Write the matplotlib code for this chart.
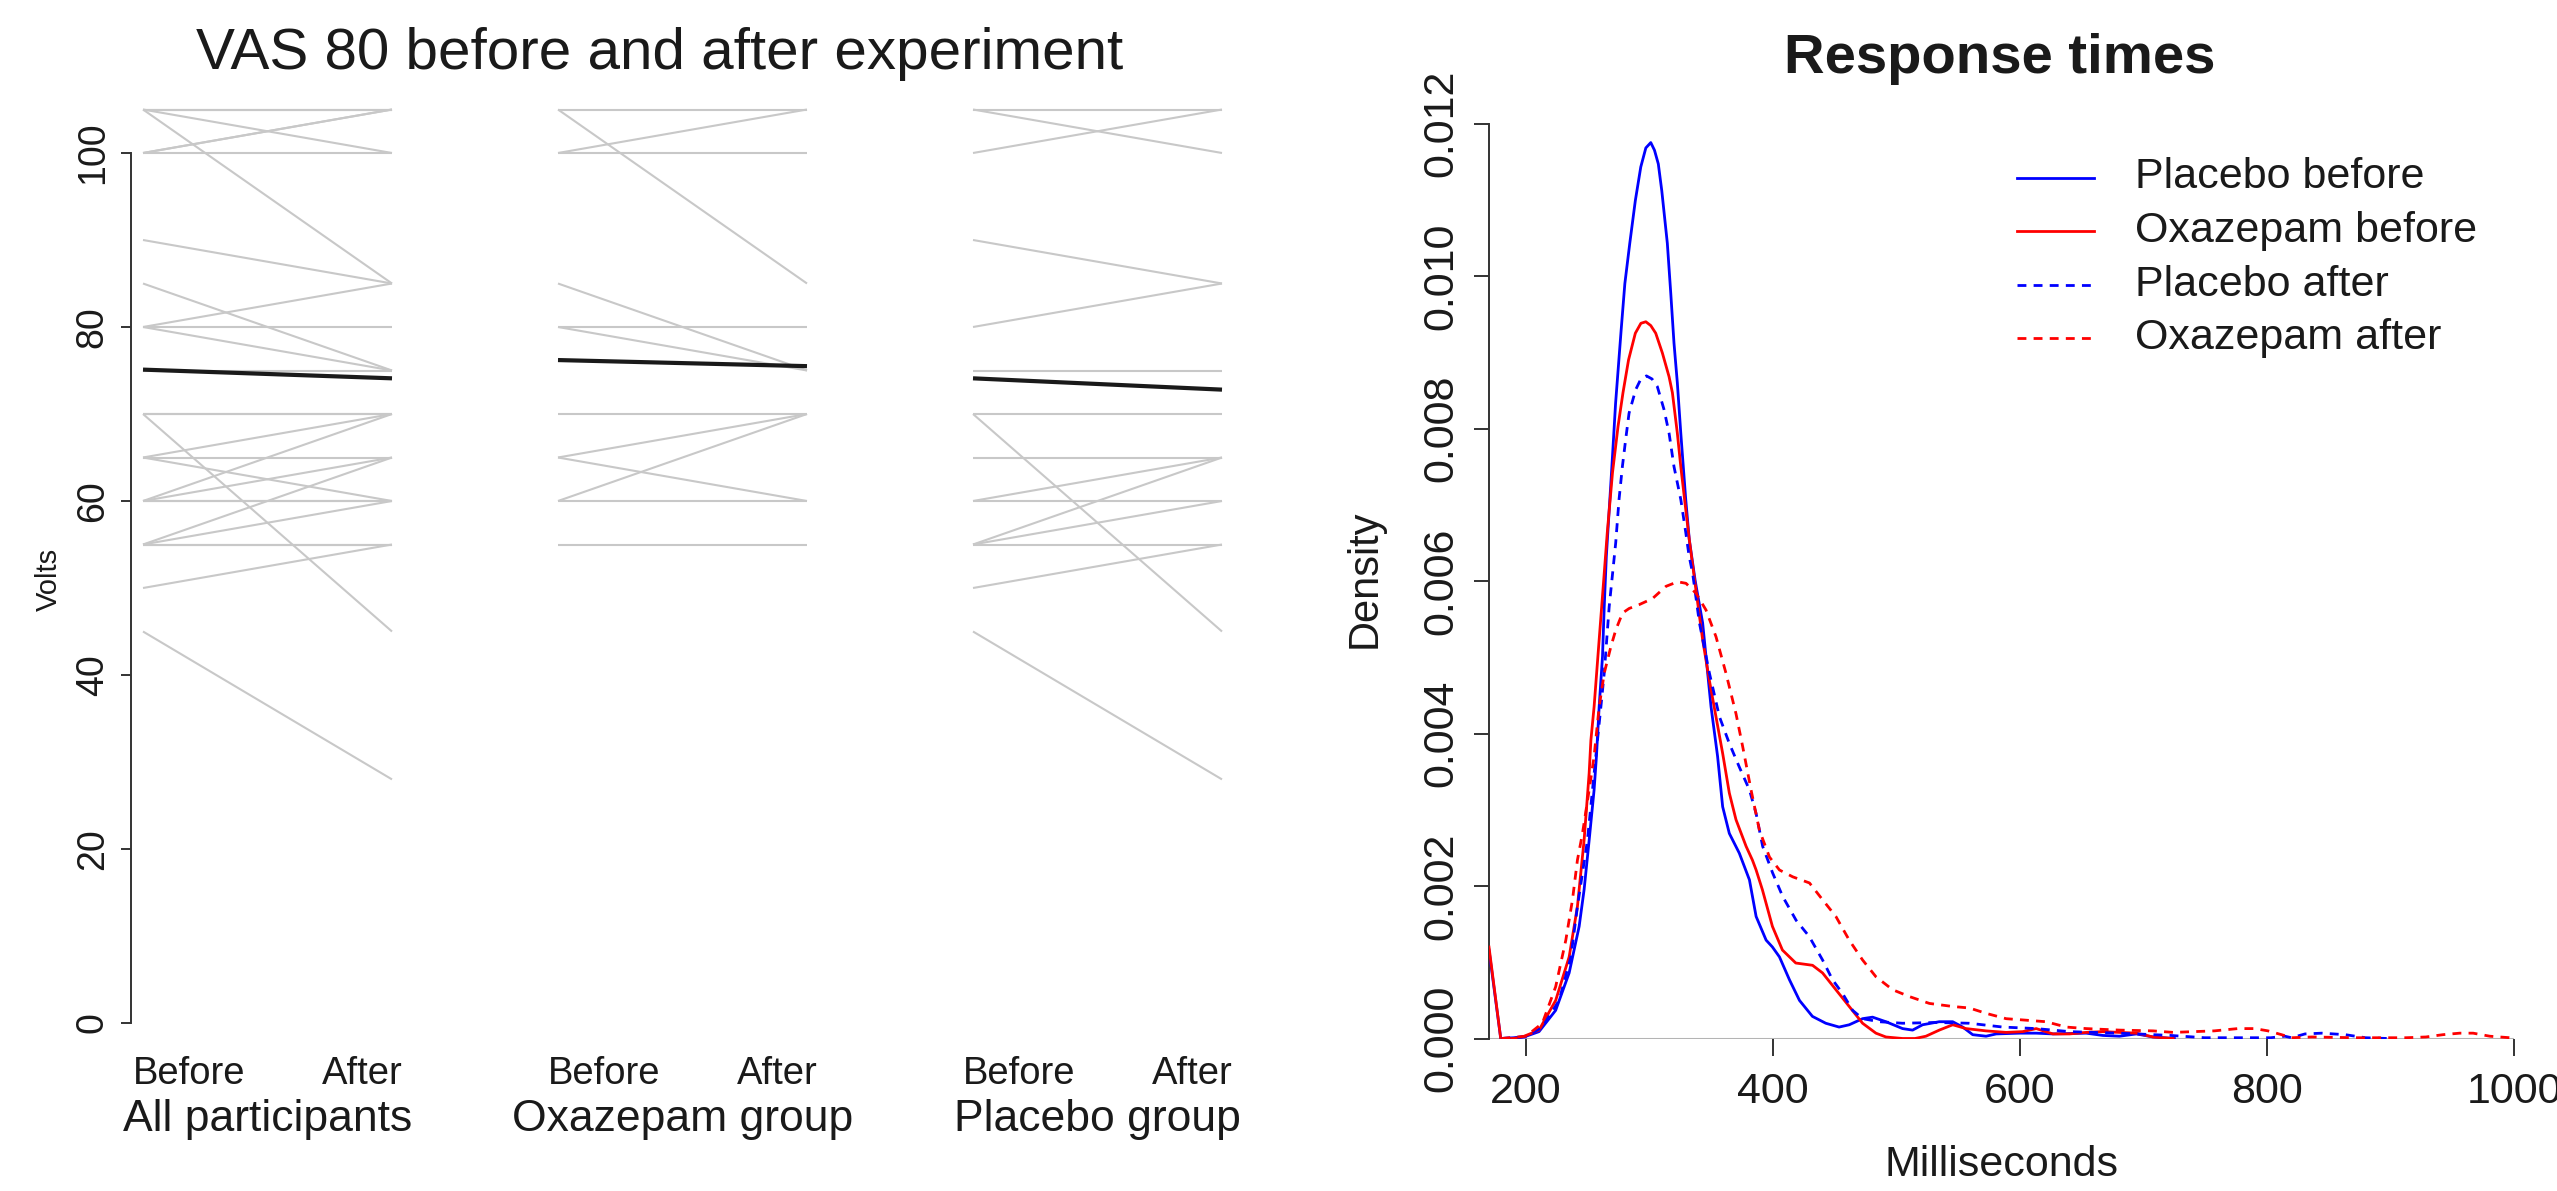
"""
VAS 80 antes/después del experimento y densidades de tiempos de respuesta.
"""

import matplotlib
matplotlib.use("Agg")
import matplotlib.pyplot as plt
import matplotlib.transforms as mtransforms

plt.rcParams.update({
    "font.family": ["Liberation Sans", "DejaVu Sans"],
    "text.color": "#1a1a1a",
    "axes.edgecolor": "#333333",
})

W, H = 2557, 1191          # tamaño final en píxeles (dpi = 100)

# ── Datos: VAS 80 (pares antes → después) ───────────────────────────────────
oxa_before = [105, 100, 100, 105, 85, 80, 80, 70, 65, 60, 65, 60, 55]
oxa_after  = [105, 105, 100, 85, 75, 80, 75, 70, 70, 70, 60, 60, 55]
pla_before = [105, 105, 100, 90, 80, 75, 70, 70, 65, 60, 55, 60, 55, 55, 50, 45]
pla_after  = [105, 100, 105, 85, 85, 75, 70, 45, 65, 65, 65, 60, 60, 55, 55, 28]
all_before = oxa_before + pla_before
all_after  = oxa_after + pla_after

groups      = ["All participants", "Oxazepam group", "Placebo group"]
mean_before = [75.1, 76.2, 74.1]
mean_after  = [74.1, 75.5, 72.8]
vas_ticks   = [0, 20, 40, 60, 80, 100]

# ── Datos: densidades de tiempos de respuesta ───────────────────────────────
pb_x = [170, 179.5, 190, 200, 210.5, 224, 234.9, 243, 247, 251.1, 255.1, 257,
        259.2, 261.9, 263.3, 265, 269.5, 272.5, 277, 280, 284, 288.5, 292.9,
        297, 301, 304, 307.1, 309.9, 314.4, 317.2, 319.8, 322.5, 325.3, 329.3,
        332.2, 337, 343, 349.8, 355.1, 359.2, 364.6, 372.7, 380.9, 386.3,
        394.4, 399.5, 405.2, 413.3, 421.4, 431.9, 442.7, 453.5, 461.7, 472.5,
        480.6, 491.4, 504.9, 513, 521.1, 534.6, 545.5, 553.6, 561.7, 572.5,
        580.7, 599.6, 613.1, 626.6, 653.6, 667.1, 680.6, 694.2, 707.7, 725]
pb_y = [0.00116, 0.0, 0.00001, 0.00003, 0.00009, 0.00037, 0.00086, 0.00147,
        0.00195, 0.0026, 0.00326, 0.0037, 0.00435, 0.00501, 0.00566, 0.00632,
        0.0075, 0.00833, 0.00929, 0.0099, 0.01043, 0.01099, 0.01143, 0.01168,
        0.01175, 0.01165, 0.01147, 0.01112, 0.01043, 0.00977, 0.00912, 0.0086,
        0.00794, 0.00707, 0.00654, 0.006, 0.00545, 0.00435, 0.0037, 0.00304,
        0.00269, 0.00243, 0.00208, 0.0016, 0.00129, 0.0012, 0.00107, 0.00077,
        0.0005, 0.00029, 0.0002, 0.00015, 0.00018, 0.00026, 0.00028, 0.00022,
        0.00013, 0.00011, 0.00018, 0.00022, 0.00022, 0.00015, 0.00005, 0.00003,
        0.00006, 0.00007, 0.00007, 0.00006, 0.00007, 0.00004, 0.00003, 0.00006,
        0.00002, 0.0]

ob_x = [170, 179.5, 190, 197, 210.5, 224, 234.9, 241.6, 247, 251.1, 252.5,
        255.1, 259.2, 263.3, 265.8, 270, 274.5, 278.5, 283, 288.5, 293, 297,
        301, 305, 310.4, 315.8, 318.5, 322.5, 325.3, 329.3, 332.2, 337.6, 343,
        348.4, 353.8, 359.2, 364.6, 370, 378.2, 383.3, 386.3, 391.4, 399.5,
        407.6, 418.4, 432, 440.1, 450.9, 461.7, 472.5, 483.3, 491.4, 504.9,
        515, 523.8, 534.6, 545.5, 556.3, 572.5, 588.7, 602.2, 613.1, 626.6,
        640.1, 653.6, 667.1, 694.2, 707.7, 724]
ob_y = [0.0012, 0.0, 0.0, 0.00002, 0.00011, 0.0005, 0.00107, 0.00173, 0.0026,
        0.00348, 0.00391, 0.00435, 0.00523, 0.0061, 0.00664, 0.00742, 0.00803,
        0.00847, 0.0089, 0.00925, 0.00938, 0.0094, 0.00935, 0.00925, 0.00899,
        0.00868, 0.00847, 0.00794, 0.0075, 0.00694, 0.00654, 0.00588, 0.00523,
        0.0047, 0.00422, 0.00374, 0.00322, 0.00287, 0.00252, 0.00234, 0.00221,
        0.00195, 0.00147, 0.00116, 0.00099, 0.00096, 0.00086, 0.00064, 0.00042,
        0.0002, 0.00007, 0.00002, 0.0, 0.0, 0.00003, 0.00011, 0.00018, 0.00013,
        0.0001, 0.00008, 0.00009, 0.00013, 0.00006, 0.00006, 0.00008, 0.00009,
        0.00007, 0.00002, 0.0]

pa_x = [180, 200, 213.2, 226.8, 236.3, 241.6, 245.7, 249.7, 253.8, 256.5,
        260.6, 263.3, 267.3, 272.6, 275.3, 278, 280.7, 283.4, 288.8, 293,
        297.5, 302, 306.3, 311.7, 315.8, 319.8, 325.3, 329.3, 332, 334.9,
        340.4, 348.5, 356.6, 364.6, 372.7, 380.9, 386.3, 391.6, 399.7, 407.9,
        418.7, 429.2, 440.1, 448.2, 456.3, 464.4, 472.5, 486, 504.9, 531.9,
        559, 586, 613.1, 640.1, 680.6, 722, 749.5, 776.3, 803, 814.4, 819.9,
        830.8, 844.4, 863.4, 879.8, 898]
pa_y = [0.0, 0.00002, 0.00015, 0.0005, 0.00107, 0.00173, 0.00217, 0.0026,
        0.00326, 0.0037, 0.00435, 0.00479, 0.00566, 0.0065, 0.00707, 0.0075,
        0.00786, 0.0082, 0.00851, 0.00865, 0.00869, 0.00865, 0.00855, 0.00825,
        0.00794, 0.0075, 0.00707, 0.00664, 0.00633, 0.0061, 0.00545, 0.00479,
        0.00422, 0.00387, 0.00356, 0.00326, 0.00295, 0.00252, 0.00217, 0.00186,
        0.00155, 0.00134, 0.00103, 0.00077, 0.00059, 0.00037, 0.00026, 0.00022,
        0.0002, 0.00021, 0.0002, 0.00015, 0.00013, 0.00009, 0.00007, 0.00004,
        0.00001, 0.00001, 0.00001, 0.00003, 0.00001, 0.00006, 0.00007, 0.00005,
        0.00001, 0.0]

oa_x = [180, 200, 213.2, 224, 232.2, 237.6, 241.6, 245.7, 251.1, 255.1, 259.2,
        263.3, 268.7, 272.7, 278.1, 283.5, 291.6, 302.4, 313.3, 322.7, 329.5,
        337.6, 345.7, 353.8, 361.9, 370, 375.4, 382.2, 389, 397.1, 405.2, 416,
        429.5, 440.1, 450.9, 461.7, 472.5, 483.3, 496.8, 510.4, 526.6, 545.5,
        559, 572.5, 588.7, 605, 621.1, 637.4, 653.6, 680.6, 707.7, 724, 757.3,
        776.3, 790, 800.8, 811.8, 819.9, 836.2, 871.6, 912.4, 928.7, 942.4,
        956, 966.9, 980.4, 996.7]
oa_y = [0.0, 0.00003, 0.0002, 0.00068, 0.00129, 0.00182, 0.00234, 0.00269,
        0.00326, 0.0037, 0.00435, 0.00479, 0.00514, 0.00536, 0.00558, 0.00564,
        0.00569, 0.00577, 0.00593, 0.00599, 0.00597, 0.00584, 0.00562, 0.00527,
        0.00479, 0.00426, 0.00383, 0.00326, 0.00273, 0.00238, 0.00221, 0.00212,
        0.00204, 0.00182, 0.0016, 0.00129, 0.00103, 0.00081, 0.00064, 0.00055,
        0.00046, 0.00042, 0.0004, 0.00033, 0.00026, 0.00024, 0.00022, 0.00015,
        0.00013, 0.00011, 0.0001, 0.00008, 0.0001, 0.00013, 0.00013, 0.0001,
        0.00005, 0.00001, 0.00002, 0.00001, 0.00001, 0.00002, 0.00005, 0.00007,
        0.00007, 0.00003, 0.00001]

series_labels = ["Placebo before", "Oxazepam before", "Placebo after", "Oxazepam after"]
series_colors = ["#0000ff", "#ff0000", "#0000ff", "#ff0000"]
series_dashed = [False, False, True, True]
rt_xticks = [200, 400, 600, 800, 1000]
rt_yticks = [0.000, 0.002, 0.004, 0.006, 0.008, 0.010, 0.012]

DASH = (0, (3.2, 2.6))


def fx(px):
    return px / W


def fy(py):
    return 1 - py / H


fig = plt.figure(figsize=(W / 100, H / 100), dpi=100)

# ── Panel izquierdo: VAS 80 ─────────────────────────────────────────────────
ax1 = fig.add_axes([fx(131), fy(1023), (1245 - 131) / W, (1023 - 100) / H])
ax1.set_ylim(0, (1023 - 100) / 8.7)
ax1.set_xlim(-12 / 249, (1245 - 143) / 249)

offsets = [0, 5 / 3, 10 / 3]
pairs = [(all_before, all_after), (oxa_before, oxa_after), (pla_before, pla_after)]
for off, (bef, aft) in zip(offsets, pairs):
    for b, a in zip(bef, aft):
        ax1.plot([off, off + 1], [b, a], color="#c8c8c8", lw=1.5,
                 solid_capstyle="butt", clip_on=False, zorder=1)
for off, mb, ma in zip(offsets, mean_before, mean_after):
    ax1.plot([off, off + 1], [mb, ma], color="#1a1a1a", lw=3.0,
             solid_capstyle="butt", zorder=3)

for s in ["top", "right", "bottom"]:
    ax1.spines[s].set_visible(False)
ax1.spines["left"].set_bounds(0, 100)
ax1.spines["left"].set_linewidth(1.4)
ax1.set_xticks([])
ax1.set_yticks(vas_ticks)
ax1.tick_params(axis="y", length=7.5, width=1.4, pad=7, labelsize=27,
                labelrotation=90, colors="#333333", labelcolor="#1a1a1a")
for lab in ax1.get_yticklabels():
    lab.set_va("center")

lab_tr = mtransforms.blended_transform_factory(ax1.transData, fig.transFigure)
for off, name in zip(offsets, groups):
    ax1.text(off + 0.186, fy(1084), "Before", transform=lab_tr, ha="center",
             va="baseline", fontsize=27.5)
    ax1.text(off + 0.879, fy(1084), "After", transform=lab_tr, ha="center",
             va="baseline", fontsize=27.5)
    ax1.text(off + 0.5, fy(1131), name, transform=lab_tr, ha="center",
             va="baseline", fontsize=32)

fig.text(fx(49), fy(579), "Volts", rotation=90, ha="center", va="center",
         fontsize=21)
fig.text(fx(660), fy(69), "VAS 80 before and after experiment", ha="center",
         va="baseline", fontsize=42)

# ── Panel derecho: tiempos de respuesta ─────────────────────────────────────
ax2 = fig.add_axes([fx(1489), fy(1038.5), (2514 - 1489) / W, (1038.5 - 110) / H])
ax2.set_xlim(170, 1000)
ax2.set_ylim(0, (1038.5 - 110) * 1.3115e-5)

curves = [(pb_x, pb_y), (ob_x, ob_y), (pa_x, pa_y), (oa_x, oa_y)]
for (xs, ys), col, dashed in zip(curves, series_colors, series_dashed):
    ax2.plot(xs, ys, color=col, lw=2.0, linestyle=DASH if dashed else "-",
             zorder=3)

ax2.axhline(0, color="#b4b4b4", lw=2.2, zorder=2)
for s in ["top", "right", "bottom"]:
    ax2.spines[s].set_visible(False)
ax2.spines["left"].set_bounds(0, 0.012)
ax2.spines["left"].set_linewidth(1.4)
ax2.set_xticks(rt_xticks)
ax2.set_yticks(rt_yticks)
ax2.set_yticklabels([f"{v:.3f}" for v in rt_yticks])
ax2.tick_params(axis="x", length=12, width=1.4, pad=12, labelsize=31,
                colors="#333333", labelcolor="#1a1a1a")
ax2.tick_params(axis="y", length=11, width=1.4, pad=9, labelsize=31,
                labelrotation=90, colors="#333333", labelcolor="#1a1a1a")
for lab in ax2.get_yticklabels():
    lab.set_va("center")

fig.text(fx(1365), fy(579), "Density", rotation=90, ha="center", va="center",
         fontsize=30)
fig.text(fx(2001), fy(1165), "Milliseconds", ha="center", va="center",
         fontsize=31)
fig.text(fx(2000), fy(73), "Response times", ha="center", va="baseline",
         fontsize=40.5, fontweight="bold")

# Leyenda (manual, como en R)
rows = [177.5, 231, 284.5, 338]
for yy, lab, col, dashed in zip(rows, series_labels, series_colors, series_dashed):
    fig.add_artist(plt.Line2D([fx(2017), fx(2094)], [fy(yy), fy(yy)],
                              color=col, lw=2.0,
                              linestyle=DASH if dashed else "-"))
    fig.text(fx(2135), fy(yy), lab, ha="left", va="center", fontsize=31)

fig.savefig("out.png", dpi=100)
